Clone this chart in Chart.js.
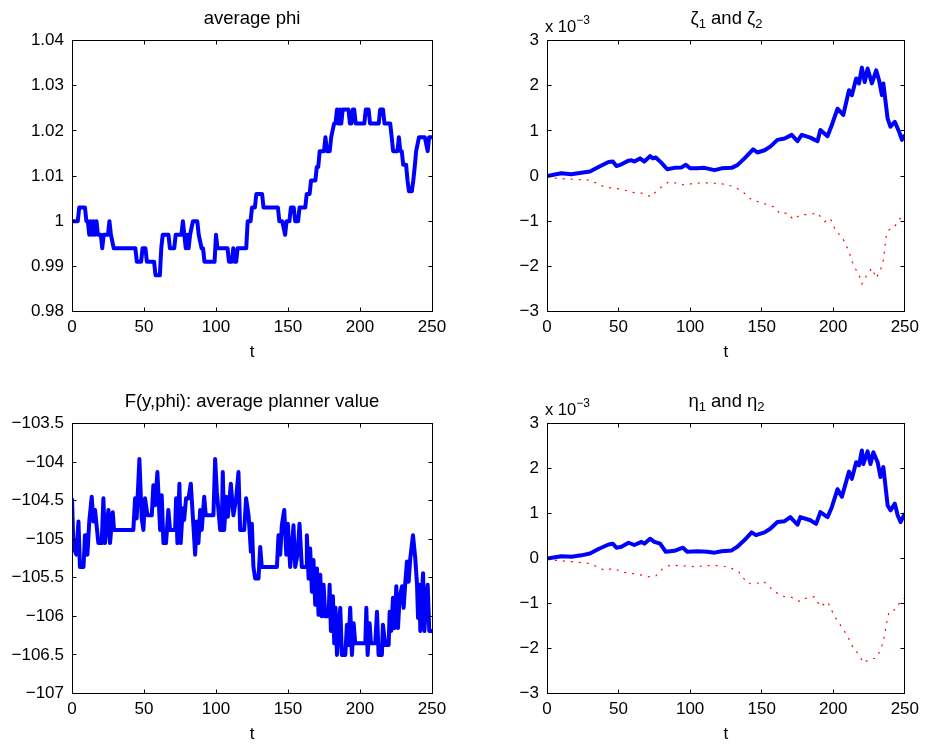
<!DOCTYPE html>
<html>
<head>
<meta charset="utf-8">
<script src="https://cdn.jsdelivr.net/npm/chart.js@4.4.0/dist/chart.umd.min.js"></script>
<style>
  body { margin: 0; background: #fff; }
  #fig { position: relative; width: 925px; height: 747px; font-family: 'Liberation Sans', Arial, Helvetica, sans-serif; color: #000; }
  #fig canvas { position: absolute; left: 0; top: 0; }
  .ttl { position: absolute; text-align: center; font-size: 18.5px; line-height: 20px; white-space: nowrap; }
  .ttl sub { font-size: 13px; vertical-align: -4px; line-height: 0; }
  .expo { position: absolute; font-size: 16.5px; line-height: 20px; white-space: nowrap; }
  .expo sup { font-size: 12px; vertical-align: 8px; line-height: 0; }
</style>
</head>
<body>
<div id="fig">
  <canvas id="phiChart" width="925" height="747"></canvas>
  <canvas id="zetaChart" width="925" height="747"></canvas>
  <canvas id="fChart" width="925" height="747"></canvas>
  <canvas id="etaChart" width="925" height="747"></canvas>

  <div class="ttl" style="left:72px;width:360px;top:8px">average phi</div>
  <div class="ttl" style="left:547px;width:359px;top:8px">ζ<sub>1</sub> and ζ<sub>2</sub></div>
  <div class="ttl" style="left:72px;width:360px;top:391px">F(y,phi): average planner value</div>
  <div class="ttl" style="left:547px;width:359px;top:391px">η<sub>1</sub> and η<sub>2</sub></div>
  <div class="expo" style="left:545px;top:16px">x 10<sup>−3</sup></div>
  <div class="expo" style="left:545px;top:399px">x 10<sup>−3</sup></div>
</div>

<script>
// tick labels
const tTicks = [0, 50, 100, 150, 200, 250];
const phiTicks = [0.98, 0.99, 1, 1.01, 1.02, 1.03, 1.04];
const fTicks = [-107, -106.5, -106, -105.5, -105, -104.5, -104, -103.5];
const e3Ticks = [-3, -2, -1, 0, 1, 2, 3];

// average phi
const phiT = [0,4,5,9,10,11,12,13,14,15,
  16,17,18,20,21,22,25,26,27,29,
  44,45,48,49,51,52,57,58,61,62,
  63,67,68,71,72,76,77,78,79,80,
  81,82,84,87,88,90,91,92,99,100,
  101,108,109,111,112,113,114,115,121,122,
  124,125,127,128,132,133,143,144,146,148,
  149,151,152,154,155,157,158,162,163,165,
  166,169,170,171,172,175,176,177,179,180,
  182,183,184,185,186,187,188,192,193,194,
  195,196,197,203,204,206,207,213,214,216,
  217,221,222,223,226,227,228,229,230,232,
  233,234,236,237,238,239,241,245,247,248,
  250];
const phiV = [1.000,1.000,1.003,1.003,1.000,1.000,0.997,1.000,0.997,1.000,
  0.997,1.000,0.997,0.997,0.994,0.997,0.997,1.000,0.997,0.994,
  0.994,0.991,0.991,0.994,0.994,0.991,0.991,0.988,0.988,0.994,
  0.997,0.997,0.994,0.994,0.997,0.997,1.000,0.997,0.994,0.997,
  0.994,0.997,1.000,1.000,0.997,0.994,0.994,0.991,0.991,0.997,
  0.994,0.994,0.991,0.991,0.994,0.991,0.991,0.994,0.994,1.000,
  1.000,1.003,1.003,1.006,1.006,1.003,1.003,1.000,1.000,0.997,
  1.000,1.000,1.003,1.003,1.000,1.000,1.003,1.003,1.006,1.006,
  1.009,1.009,1.012,1.012,1.0155,1.0155,1.0186,1.0155,1.0155,1.0186,
  1.0216,1.0216,1.0247,1.0216,1.0247,1.0216,1.0247,1.0247,1.0216,1.0216,
  1.0247,1.0247,1.0216,1.0216,1.0247,1.0247,1.0216,1.0216,1.0247,1.0247,
  1.0216,1.0216,1.0186,1.0155,1.0155,1.0186,1.0155,1.0155,1.0125,1.0125,
  1.009,1.0066,1.0066,1.009,1.012,1.0155,1.0186,1.0186,1.0155,1.0186,
  1.0186];

// F(y,phi)
const fT = [0,1,3,4.5,5.5,8,9,10,10.7,12,
  13.7,14.8,16,18.3,20.6,21.8,22.9,25.3,26.4,28.3,
  29.2,42.6,43.8,44.9,46.8,48.4,49.6,50.7,52.4,55.4,
  56.5,57.7,59.3,61.2,62.3,63.5,65.3,66.9,68.1,71.6,
  72.3,73.2,74.6,75.5,76.9,77.9,79.2,80.9,82.5,84.3,
  85.5,86.7,87.8,89,90.1,91.8,92.9,98.2,99.4,100.6,
  102.9,104,104.7,105.7,107,108.2,109.4,110.3,112.1,114,
  115.6,116.8,119.6,120.9,122.6,123.3,124.2,124.9,126,127.2,
  129.5,130.7,131.8,142.3,143.4,144.6,145.7,147.4,148.8,149.9,
  151.5,152.7,153.8,155,156.6,158,159.6,162.7,163.1,164.3,
  165.4,166.6,167.7,168.9,170.1,171.2,172.4,173.5,174.7,175.9,
  178.2,178.9,179.8,181.2,182.1,183,184,185.1,186.3,187.4,
  189.8,190.9,192.1,193.2,194.4,195.6,196.7,203.7,204.4,205.3,
  206.7,207.6,210.6,211.8,212.9,215.2,215.9,217.6,219.9,220.6,
  221.7,222.9,224.1,225.2,226.4,227.5,229.2,230.3,231.5,232.6,
  233.8,234.9,236.8,238.4,239.6,240.3,241.2,241.9,242.6,243.8,
  244.7,245.8,247,248.1,249.3,250];
const fV = [-104.47,-105.10,-105.20,-104.77,-105.36,-105.36,-104.95,-104.95,-105.20,-104.77,
  -104.45,-104.77,-104.62,-105.05,-105.05,-104.47,-105.05,-104.62,-105.05,-104.65,
  -104.88,-104.88,-104.47,-104.73,-103.96,-104.73,-104.88,-104.47,-104.69,-104.69,
  -104.30,-104.56,-104.13,-104.88,-104.43,-105.05,-105.05,-104.62,-104.88,-104.88,
  -104.47,-105.05,-104.28,-105.05,-104.60,-104.75,-104.47,-104.47,-104.28,-104.82,
  -105.20,-104.77,-105.05,-104.62,-104.88,-104.45,-104.69,-104.69,-103.96,-104.39,
  -104.88,-104.88,-104.13,-104.88,-104.45,-104.71,-104.47,-104.28,-104.69,-104.47,
  -104.13,-104.88,-104.88,-104.47,-104.69,-104.88,-105.16,-104.80,-105.36,-105.51,
  -105.51,-105.10,-105.36,-105.36,-104.95,-105.20,-104.82,-104.62,-105.20,-104.80,
  -105.36,-105.12,-104.82,-105.36,-105.20,-104.80,-105.36,-105.36,-104.95,-105.51,
  -105.12,-105.68,-105.27,-105.85,-105.38,-105.98,-105.46,-106.00,-105.59,-106.00,
  -106.00,-105.59,-106.19,-105.74,-106.35,-105.89,-106.50,-106.19,-105.89,-106.50,
  -106.50,-106.11,-106.37,-105.89,-106.50,-106.09,-106.35,-106.35,-105.89,-106.50,
  -106.09,-106.35,-106.35,-105.94,-106.50,-106.50,-106.11,-106.37,-106.37,-105.94,
  -106.19,-105.76,-106.15,-105.61,-106.15,-105.76,-105.61,-105.89,-105.55,-105.29,
  -105.55,-105.25,-104.95,-105.25,-105.59,-106.02,-105.59,-106.19,-105.85,-105.44,
  -106.19,-105.85,-105.59,-106.19,-106.19,-106.19];

// zeta_1, zeta_2 (units of 1e-3)
const zeta1T = [0,10,17,24,30,36,43,46,48.5,52,
  57,59,61,65,68,72,74,76,80,84,
  89,94,97,100,105,110,117,122,129,133,
  138,144,147,152,156,161,166,171,175,178,
  184,189,191,196,199,203,207,211,213,216,
  218,220,222,224,227,230,232,234,235,238,
  240,243,246,248,250];
const zeta1V = [0,0.06,0.04,0.07,0.10,0.20,0.31,0.32,0.22,0.26,
  0.34,0.35,0.32,0.39,0.32,0.44,0.39,0.41,0.29,0.15,
  0.18,0.19,0.25,0.17,0.17,0.18,0.13,0.17,0.18,0.24,
  0.39,0.59,0.52,0.57,0.65,0.80,0.83,0.91,0.77,0.91,
  0.85,0.77,1.02,0.88,1.13,1.49,1.35,1.90,1.79,2.16,
  2.05,2.40,2.08,2.38,2.05,2.34,2.12,1.79,2.05,1.27,
  1.09,1.20,0.98,0.80,0.91];
const zeta2T = [0,6,17,29,35,40,46,52,59,66,
  73,76,80,85,89,96,103,110,117,124,
  131,138,143,150,159,163,168,172,177,184,
  189,194,198,202,206,211,214,218,220,223,
  227,230,233,235,237,239,242,246,250];
const zeta2V = [0,-0.05,-0.07,-0.09,-0.16,-0.24,-0.27,-0.29,-0.36,-0.38,
  -0.46,-0.35,-0.24,-0.13,-0.15,-0.20,-0.16,-0.15,-0.16,-0.18,
  -0.24,-0.38,-0.53,-0.59,-0.69,-0.84,-0.82,-0.96,-0.86,-0.85,
  -0.82,-1.01,-0.94,-1.23,-1.34,-1.67,-1.97,-2.19,-2.39,-2.22,
  -2.04,-2.26,-2.08,-1.86,-1.34,-1.19,-1.16,-0.97,-0.81];

// eta_1, eta_2 (units of 1e-3)
const eta1T = [0,10,17,24,30,36,43,46,48.5,52,
  57,61,66,68,72,75,79,83,89,95,
  98,105,112,117,122,129,133,138,143,146,
  152,156,161,166,170,175,177,184,188,191,
  196,199,203,206,211,213,216,218,220,221,
  224,226,228,231,233,235,238,240,243,245,
  247,250];
const eta1V = [0,0.05,0.04,0.07,0.11,0.21,0.31,0.33,0.24,0.26,
  0.35,0.30,0.37,0.33,0.44,0.37,0.33,0.15,0.17,0.24,
  0.15,0.16,0.15,0.13,0.16,0.18,0.26,0.41,0.58,0.52,
  0.58,0.66,0.81,0.83,0.92,0.75,0.92,0.85,0.77,1.03,
  0.92,1.14,1.54,1.37,1.93,1.77,2.14,2.07,2.40,2.10,
  2.38,2.10,2.36,2.14,1.81,2.03,1.18,1.07,1.22,0.96,
  0.81,1.00];
const eta2T = [0,6,17,29,35,40,47,52,59,66,
  72,76,81,86,94,103,112,122,129,134,
  140,147,151,159,166,170,177,180,187,191,
  196,201,205,210,214,218,221,225,230,233,
  235,237,239,243,247,250];
const eta2V = [0,-0.04,-0.07,-0.11,-0.18,-0.26,-0.22,-0.30,-0.33,-0.37,
  -0.41,-0.39,-0.22,-0.15,-0.16,-0.18,-0.16,-0.16,-0.22,-0.30,
  -0.55,-0.55,-0.50,-0.74,-0.85,-0.85,-0.96,-0.89,-0.85,-1.07,
  -0.96,-1.29,-1.48,-1.73,-1.99,-2.14,-2.32,-2.25,-2.21,-2.03,
  -1.85,-1.48,-1.18,-1.14,-0.96,-0.87];

Chart.defaults.font.family = "'Liberation Sans', Arial, Helvetica, sans-serif";
Chart.defaults.font.size = 17;
Chart.defaults.color = '#000';

const W = 925, H = 747, Y_AXIS_W = 60, X_AXIS_H = 52;

function pts(xs, ys) {
    return xs.map((x, i) => ({ x: x, y: ys[i] }));
}

function fmt(v) {
    return String(Math.round(v * 10000) / 10000).replace('-', '\u2212');
}

function blue(xs, ys) {
    return { data: pts(xs, ys), borderColor: '#0000ff', borderWidth: 4, order: 2, borderJoinStyle: 'round' };
}

function redDotted(xs, ys) {
    return { data: pts(xs, ys), borderColor: '#ff0000', borderWidth: 1.2, borderDash: [2, 6], order: 1 };
}

// matlab style box with inward ticks
const boxPlugin = {
    id: 'box',
    afterDraw(chart) {
        const { ctx, chartArea: a, scales: { x, y } } = chart;
        const L = Math.floor(a.left) + 0.5, R = Math.floor(a.right) + 0.5;
        const T = Math.floor(a.top) + 0.5, B = Math.floor(a.bottom) + 0.5;
        ctx.save();
        ctx.strokeStyle = '#000';
        ctx.lineWidth = 1;
        ctx.strokeRect(L, T, R - L, B - T);
        ctx.beginPath();
        x.ticks.forEach(t => {
            const px = Math.floor(x.getPixelForValue(t.value)) + 0.5;
            ctx.moveTo(px, B); ctx.lineTo(px, B - 4);
            ctx.moveTo(px, T); ctx.lineTo(px, T + 4);
        });
        y.ticks.forEach(t => {
            const py = Math.floor(y.getPixelForValue(t.value)) + 0.5;
            ctx.moveTo(L, py); ctx.lineTo(L + 4, py);
            ctx.moveTo(R, py); ctx.lineTo(R - 4, py);
        });
        ctx.stroke();
        ctx.restore();
    }
};

function makeChart(id, area, yTicks, datasets) {
    return new Chart(document.getElementById(id), {
        type: 'line',
        data: { datasets: datasets },
        options: {
            responsive: false,
            animation: false,
            layout: { padding: { left: area[0] - Y_AXIS_W, top: area[1], right: W - area[2], bottom: H - area[3] - X_AXIS_H } },
            plugins: { legend: { display: false }, tooltip: { enabled: false } },
            elements: { point: { radius: 0 }, line: { tension: 0 } },
            scales: {
                x: {
                    type: 'linear', min: 0, max: 250,
                    grid: { display: false, drawTicks: false },
                    border: { display: false },
                    afterBuildTicks: s => { s.ticks = tTicks.map(v => ({ value: v })); },
                    afterFit: s => { s.height = X_AXIS_H; },
                    ticks: { padding: 6, autoSkip: false, maxRotation: 0, callback: v => fmt(v) },
                    title: { display: true, text: 't', padding: { top: 0, bottom: 1 }, font: { size: 17 } }
                },
                y: {
                    type: 'linear', min: yTicks[0], max: yTicks[yTicks.length - 1],
                    grid: { display: false, drawTicks: false },
                    border: { display: false },
                    afterBuildTicks: s => { s.ticks = yTicks.map(v => ({ value: v })); },
                    afterFit: s => { s.width = Y_AXIS_W; },
                    ticks: { padding: 8, autoSkip: false, callback: v => fmt(v) }
                }
            }
        },
        plugins: [boxPlugin]
    });
}

makeChart('phiChart', [72, 40.5, 432, 311.5], phiTicks, [blue(phiT, phiV)]);
makeChart('zetaChart', [547, 40.5, 906, 311.5], e3Ticks, [blue(zeta1T, zeta1V), redDotted(zeta2T, zeta2V)]);
makeChart('fChart', [72, 423.5, 432, 693.5], fTicks, [blue(fT, fV)]);
makeChart('etaChart', [547, 423.5, 906, 693.5], e3Ticks, [blue(eta1T, eta1V), redDotted(eta2T, eta2V)]);
</script>
</body>
</html>
